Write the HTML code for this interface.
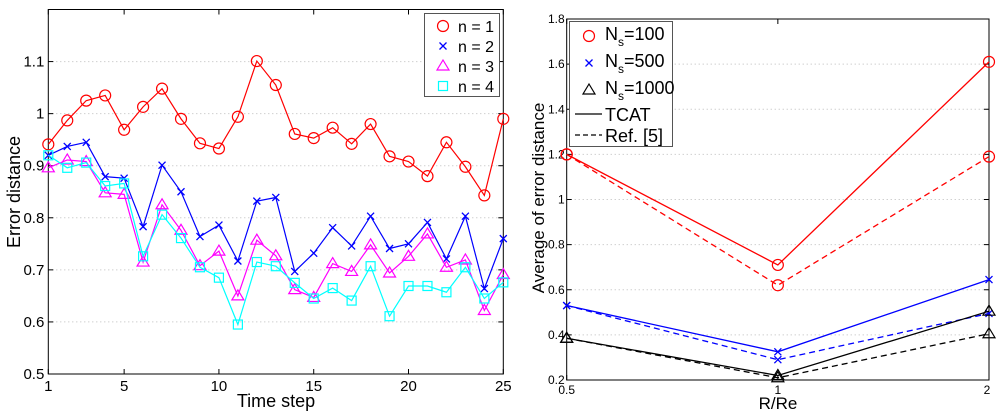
<!DOCTYPE html>
<html><head><meta charset="utf-8"><style>
body{margin:0;background:#fff;width:1000px;height:414px;overflow:hidden}
svg{display:block;font-family:"Liberation Sans",sans-serif}
</style></head><body>
<svg id="c" width="1000" height="414"></svg>
<script>
const steps=[1,2,3,4,5,6,7,8,9,10,11,12,13,14,15,16,17,18,19,20,21,22,23,24,25];
const n1=[0.941,0.987,1.025,1.035,0.969,1.013,1.048,0.990,0.943,0.933,0.994,1.101,1.055,0.961,0.953,0.973,0.942,0.980,0.918,0.908,0.880,0.945,0.898,0.843,0.990];
const n2=[0.920,0.937,0.945,0.879,0.876,0.783,0.901,0.850,0.764,0.786,0.717,0.832,0.839,0.697,0.732,0.781,0.746,0.803,0.741,0.750,0.791,0.721,0.803,0.664,0.760];
const n3=[0.896,0.911,0.908,0.848,0.845,0.715,0.825,0.776,0.708,0.736,0.650,0.757,0.727,0.662,0.647,0.712,0.697,0.748,0.694,0.726,0.769,0.705,0.719,0.622,0.691];
const n4=[0.920,0.896,0.906,0.861,0.866,0.726,0.806,0.761,0.705,0.685,0.595,0.715,0.707,0.675,0.645,0.665,0.641,0.707,0.611,0.669,0.669,0.657,0.705,0.645,0.676];
const leftYTicks=[0.5,0.6,0.7,0.8,0.9,1,1.1];
const leftXTicks=[1,5,10,15,20,25];
const ratios=["0.5","1","2"];
const tcat100=[1.2,0.71,1.61];
const ref100=[1.2,0.62,1.19];
const tcat500=[0.53,0.325,0.645];
const ref500=[0.53,0.29,0.495];
const tcat1000=[0.385,0.22,0.505];
const ref1000=[0.385,0.21,0.405];
const rightYTicks=[0.2,0.4,0.6,0.8,1,1.2,1.4,1.6,1.8];

const S=document.getElementById('c');const NS='http://www.w3.org/2000/svg';
function el(t,a,p){const e=document.createElementNS(NS,t);for(const k in a)e.setAttribute(k,a[k]);(p||S).appendChild(e);return e;}
function txt(s,a,p){const e=el('text',a,p);e.textContent=s;return e;}
function marker(kind,x,y,c,g){
 if(kind==='o')return el('circle',{cx:x,cy:y,r:5.5,fill:'none',stroke:c,'stroke-width':1.2},g);
 if(kind==='x')return el('path',{d:`M${x-3.5} ${y-3.5}L${x+3.5} ${y+3.5}M${x-3.5} ${y+3.5}L${x+3.5} ${y-3.5}`,stroke:c,'stroke-width':1.3},g);
 if(kind==='t')return el('path',{d:`M${x} ${y-6}L${x+6} ${y+4}L${x-6} ${y+4}Z`,fill:'none',stroke:c,'stroke-width':1.2},g);
 if(kind==='s')return el('rect',{x:x-4.5,y:y-4.5,width:9,height:9,fill:'none',stroke:c,'stroke-width':1.2},g);
}
// LEFT
const L={x0:48.3,x1:503.3,y0:374,y1:9.5,ymin:0.5,ymax:1.2};
const lx=v=>L.x0+(v-1)/(24)*(L.x1-L.x0);
const ly=v=>L.y0-(v-L.ymin)/(L.ymax-L.ymin)*(L.y0-L.y1);
const gl=el('g',{});
leftYTicks.forEach(v=>{const y=ly(v);
 if(v>0.5)el('line',{x1:L.x0,x2:L.x1,y1:y,y2:y,stroke:'#bbb','stroke-dasharray':'1,3'},gl);
 el('line',{x1:L.x0,x2:L.x0+5,y1:y,y2:y,stroke:'#000'},gl);el('line',{x1:L.x1,x2:L.x1-5,y1:y,y2:y,stroke:'#000'},gl);
 const t=txt(String(v),{x:L.x0-4,y:y+5,'text-anchor':'end','font-size':15},gl);});
leftXTicks.forEach(v=>{const x=lx(v);
 el('line',{x1:x,x2:x,y1:L.y0,y2:L.y0-5,stroke:'#000'},gl);el('line',{x1:x,x2:x,y1:L.y1,y2:L.y1+5,stroke:'#000'},gl);
 const t=txt(String(v),{x:x,y:L.y0+17,'text-anchor':'middle','font-size':15},gl);});
el('rect',{x:L.x0,y:L.y1,width:L.x1-L.x0,height:L.y0-L.y1,fill:'none',stroke:'#000'},gl);
const ls=[[n1,'#f00','o'],[n2,'#00f','x'],[n3,'#f0f','t'],[n4,'#0ff','s']];
ls.forEach(([d,c,m],i)=>{const g=el('g',{},gl);
 el('polyline',{points:d.map((v,j)=>lx(steps[j])+','+ly(v)).join(' '),fill:'none',stroke:c,'stroke-width':1.2},g);
 d.forEach((v,j)=>marker(m,lx(steps[j]),ly(v),c,g));});
const lg=el('g',{},gl);
el('rect',{x:424.5,y:13.5,width:75,height:83,fill:'#fff',stroke:'#555'},lg);
ls.forEach(([d,c,m],i)=>{const y=26+i*20;marker(m,443,y,c,lg);txt('n = '+(i+1),{x:458,y:y+6,'font-size':16},lg);});
let t=txt('Error distance',{transform:'translate(20,192) rotate(-90)','text-anchor':'middle','font-size':18},gl);
t=txt('Time step',{x:276,y:407,'text-anchor':'middle','font-size':18},gl);
// RIGHT
const R={x0:566.7,x1:989,y0:380,y1:19,ymin:0.2,ymax:1.8};
const rx=i=>R.x0+i/(ratios.length-1)*(R.x1-R.x0);
const ry=v=>R.y0-(v-R.ymin)/(R.ymax-R.ymin)*(R.y0-R.y1);
const gr=el('g',{});
rightYTicks.forEach(v=>{const y=ry(v);
 if(v>0.2&&v<1.8)el('line',{x1:R.x0,x2:R.x1,y1:y,y2:y,stroke:'#bbb','stroke-dasharray':'1,3'},gr);
 el('line',{x1:R.x0,x2:R.x0+5,y1:y,y2:y,stroke:'#000'},gr);el('line',{x1:R.x1,x2:R.x1-5,y1:y,y2:y,stroke:'#000'},gr);
 const t=txt(String(v),{x:R.x0-2,y:y+4,'text-anchor':'end','font-size':12},gr);});
ratios.forEach((v,i)=>{const x=rx(i);
 el('line',{x1:x,x2:x,y1:R.y0,y2:R.y0-5,stroke:'#000'},gr);el('line',{x1:x,x2:x,y1:R.y1,y2:R.y1+5,stroke:'#000'},gr);
 const t=txt(v,{x:x-(i===2?2:0),y:R.y0+14,'text-anchor':'middle','font-size':12},gr);});
el('rect',{x:R.x0,y:R.y1,width:R.x1-R.x0,height:R.y0-R.y1,fill:'none',stroke:'#000'},gr);
const rs=[[tcat100,'#f00','o',0],[ref100,'#f00','o',1],[tcat500,'#00f','x',0],[ref500,'#00f','x',1],[tcat1000,'#000','t',0],[ref1000,'#000','t',1]];
const rn=['tcat-100','ref-100','tcat-500','ref-500','tcat-1000','ref-1000'];
rs.forEach(([d,c,m,dash],k)=>{const g=el('g',{},gr);
 const a={points:d.map((v,i)=>rx(i)+','+ry(v)).join(' '),fill:'none',stroke:c,'stroke-width':1.3};if(dash)a['stroke-dasharray']='6,4';
 el('polyline',a,g);d.forEach((v,i)=>marker(m,rx(i),ry(v),c,g));});
const rg=el('g',{},gr);
el('rect',{x:569.5,y:21.5,width:103,height:125,fill:'#fff',stroke:'#555'},rg);
[['100','#f00','o'],['500','#00f','x'],['1000','#000','t']].forEach(([n,c,m],i)=>{const y=36+i*27;marker(m,589,y,c,rg);
 const tt=txt('N',{x:605,y:y+4,'font-size':18},rg);const s=el('tspan',{dy:6,'font-size':12},tt);s.textContent='s';const r=el('tspan',{dy:-6},tt);r.textContent='='+n;});
el('line',{x1:575,x2:602,y1:114,y2:114,stroke:'#000','stroke-width':1.2},rg);txt('TCAT',{x:605,y:121,'font-size':18},rg);
el('line',{x1:575,x2:602,y1:135,y2:135,stroke:'#000','stroke-width':1.2,'stroke-dasharray':'5,3'},rg);txt('Ref. [5]',{x:605,y:142,'font-size':18},rg);
t=txt('Average of error distance',{transform:'translate(544,198) rotate(-90)','text-anchor':'middle','font-size':17},gr);
t=txt('R/Re',{x:778,y:409,'text-anchor':'middle','font-size':17},gr);
</script>
</body></html>
